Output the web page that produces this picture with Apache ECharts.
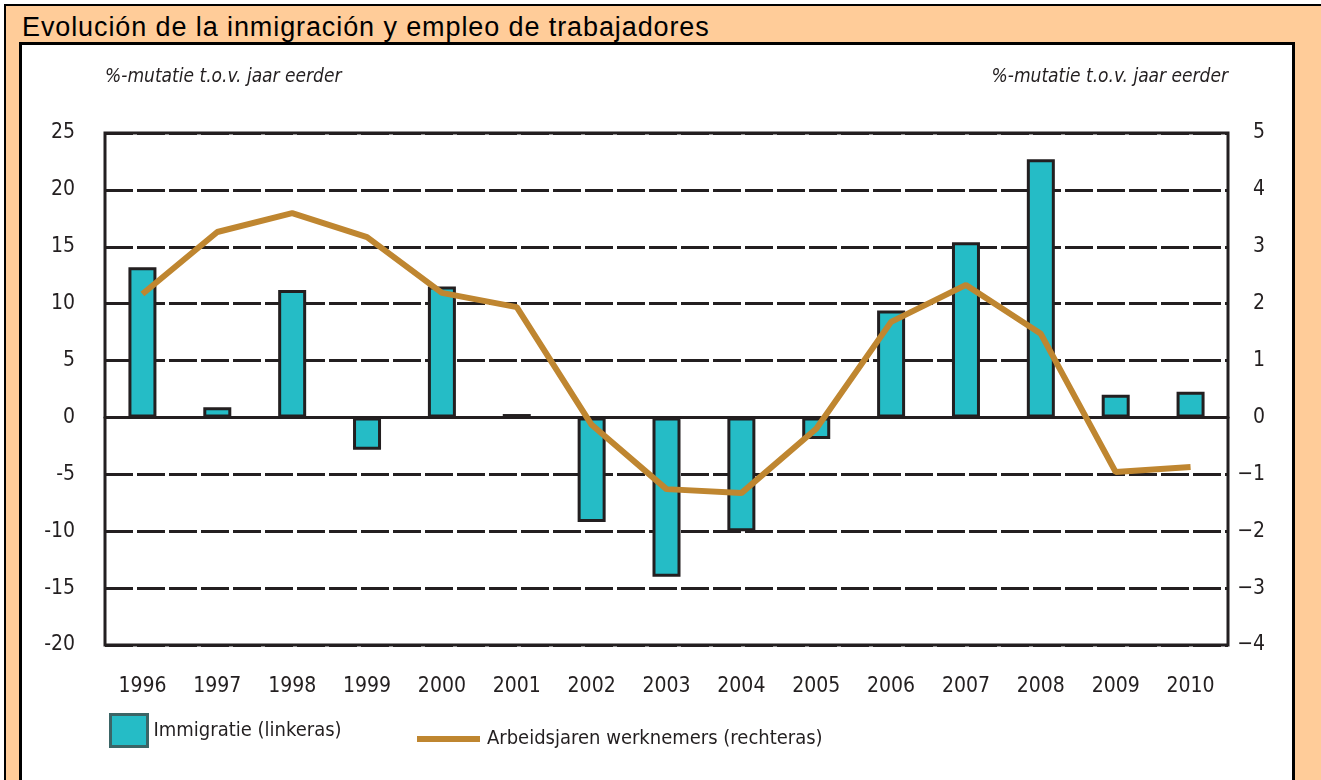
<!DOCTYPE html>
<html>
<head>
<meta charset="utf-8">
<script src="https://cdn.jsdelivr.net/npm/echarts@6/dist/echarts.min.js"></script>
<style>
    html, body { margin: 0; padding: 0; overflow: hidden; background: #fff; }
    #frame { position: absolute; left: 4px; top: 4px; width: 1400px; height: 800px;
             background: #FFCC99; border: 2px solid #000; }
    #title { position: absolute; left: 22px; top: 14px; font-family: 'Liberation Sans', Arial, sans-serif;
             font-size: 27px; line-height: 27px; letter-spacing: 0.9px; color: #000; white-space: nowrap; }
    #panel { position: absolute; left: 19px; top: 42px; width: 1270px; height: 780px;
             background: #fff; border: 3px solid #000; }
    #chart { position: absolute; left: 0; top: 0; width: 1321px; height: 780px; }
</style>
</head>
<body>
<div id="frame"></div>
<div id="title">Evolución de la inmigración y empleo de trabajadores</div>
<div id="panel"></div>
<div id="chart"></div>
<script>
    // jaren
    var years = ['1996', '1997', '1998', '1999', '2000', '2001', '2002', '2003',
                 '2004', '2005', '2006', '2007', '2008', '2009', '2010'];
    // immigratie, %-mutatie (linkeras)
    var immigratie = [13.2, 0.9, 11.2, -2.85, 11.5, 0.3, -9.2, -14.0, -10.0, -1.9, 9.4, 15.4, 22.7, 2.0, 2.25];
    // arbeidsjaren werknemers, %-mutatie (rechteras)
    var arbeidsjaren = [2.17, 3.26, 3.59, 3.17, 2.19, 1.94, -0.13, -1.26, -1.33, -0.2, 1.68, 2.33, 1.47, -0.96, -0.87];
    var axisName = '%-mutatie t.o.v. jaar eerder';

    var ink = '#231f20';
    var narrow = "'DejaVu Sans Condensed', 'Liberation Sans Narrow', sans-serif";

    var chart = echarts.init(document.getElementById('chart'));
    chart.setOption({
        animation: false,
        grid: {
            left: 105, right: 93, top: 133, bottom: 135,
            show: true, borderColor: ink, borderWidth: 3, backgroundColor: 'transparent'
        },
        legend: [{
            data: ['Immigratie (linkeras)'],
            left: 104, top: 708,
            icon: 'rect', itemWidth: 37, itemHeight: 32,
            itemStyle: { borderColor: '#3b6566', borderWidth: 3 },
            textStyle: { fontFamily: narrow, fontSize: 20, color: ink, padding: [12, 0, 0, 1] }
        }, {
            data: ['Arbeidsjaren werknemers (rechteras)'],
            left: 412, top: 724,
            icon: 'rect', itemWidth: 63, itemHeight: 6,
            textStyle: { fontFamily: narrow, fontSize: 20, color: ink, padding: [0, 0, 0, 2] }
        }],
        xAxis: {
            type: 'category',
            data: years,
            axisLine: { show: true, onZero: true, lineStyle: { color: ink, width: 3 } },
            axisTick: { show: false },
            axisLabel: { interval: 0, margin: 31, fontFamily: narrow, fontSize: 21, color: ink },
            splitLine: { show: false }
        },
        yAxis: [{
            type: 'value',
            min: -20, max: 25, interval: 5,
            name: axisName,
            nameLocation: 'end',
            nameGap: 56,
            nameTextStyle: { align: 'left', verticalAlign: 'middle', fontFamily: narrow,
                             fontStyle: 'italic', fontSize: 19, color: ink },
            axisLine: { show: false },
            axisTick: { show: false },
            axisLabel: { margin: 30, fontFamily: narrow, fontSize: 21, color: ink },
            splitLine: { show: true, lineStyle: { color: ink, width: 3, type: [28, 4] } }
        }, {
            type: 'value',
            min: -4, max: 5, interval: 1,
            name: axisName,
            nameLocation: 'end',
            nameGap: 56,
            nameTextStyle: { align: 'right', verticalAlign: 'middle', fontFamily: narrow,
                             fontStyle: 'italic', fontSize: 19, color: ink },
            axisLine: { show: false },
            axisTick: { show: false },
            axisLabel: {
                margin: 37, align: 'right', fontFamily: narrow, fontSize: 21, color: ink,
                formatter: function (v) { return String(v).replace('-', '\u2212'); }
            },
            splitLine: { show: false }
        }],
        series: [{
            name: 'Immigratie (linkeras)',
            type: 'bar',
            data: immigratie,
            barWidth: 28,
            itemStyle: { color: '#25BCC6', borderColor: ink, borderWidth: 3 }
        }, {
            name: 'Arbeidsjaren werknemers (rechteras)',
            type: 'line',
            yAxisIndex: 1,
            data: arbeidsjaren,
            showSymbol: false,
            symbol: 'none',
            color: '#BF8630',
            lineStyle: { color: '#BF8630', width: 6 },
            z: 5
        }]
    });
</script>
</body>
</html>
